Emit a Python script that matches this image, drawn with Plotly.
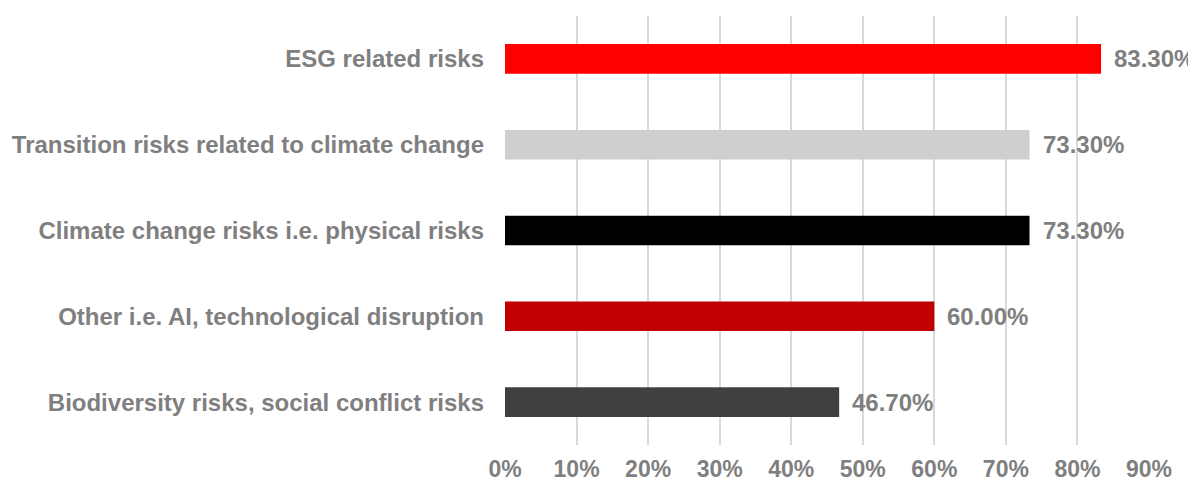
import plotly.graph_objects as go

categories = [
    "Biodiversity risks, social conflict risks",
    "Other i.e. AI, technological disruption",
    "Climate change risks i.e. physical risks",
    "Transition risks related to climate change",
    "ESG related risks",
]
values = [46.7, 60.0, 73.3, 73.3, 83.3]
bar_colors = ["#404040", "#C00000", "#000000", "#D0CECE", "#FF0000"]
tick_vals = [0, 10, 20, 30, 40, 50, 60, 70, 80, 90]
tick_text = [f"{t}%" for t in tick_vals]

grey = "#7F7F7F"
font_family = "Liberation Sans, Arial, sans-serif"
label_family = "Liberation Sans Narrow, Arial Narrow, Liberation Sans, sans-serif"
fsize = 24

fig = go.Figure(
    go.Bar(
        y=categories,
        x=values,
        orientation="h",
        marker=dict(color=bar_colors, line=dict(width=0)),
        width=0.345,
        cliponaxis=False,
        hoverinfo="x+y",
    )
)

for c, v in zip(categories, values):
    fig.add_annotation(
        x=v, y=c, xref="x", yref="y",
        text=f"{v:.2f}%",
        showarrow=False,
        xanchor="left", yanchor="middle",
        xshift=11,
        font=dict(family=label_family, size=24, color=grey, weight="bold"),
    )

fig.update_layout(
    width=1188,
    height=474,
    margin=dict(l=497, r=47, t=8, b=37, autoexpand=False),
    plot_bgcolor="white",
    paper_bgcolor="white",
    showlegend=False,
    font=dict(family=font_family, color=grey),
    xaxis=dict(
        range=[0, 90],
        tickvals=tick_vals,
        ticktext=tick_text,
        showgrid=True,
        gridcolor="#D9D9D9",
        gridwidth=2,
        zeroline=False,
        showline=False,
        automargin=False,
        tickfont=dict(family=font_family, size=23, color=grey, weight="bold"),
        ticklabelstandoff=8,
    ),
    yaxis=dict(
        showgrid=False,
        zeroline=False,
        showline=False,
        automargin=False,
        tickfont=dict(family=font_family, size=fsize, color=grey, weight="bold"),
        ticklabelstandoff=20,
    ),
)

fig.write_html("out.html")
